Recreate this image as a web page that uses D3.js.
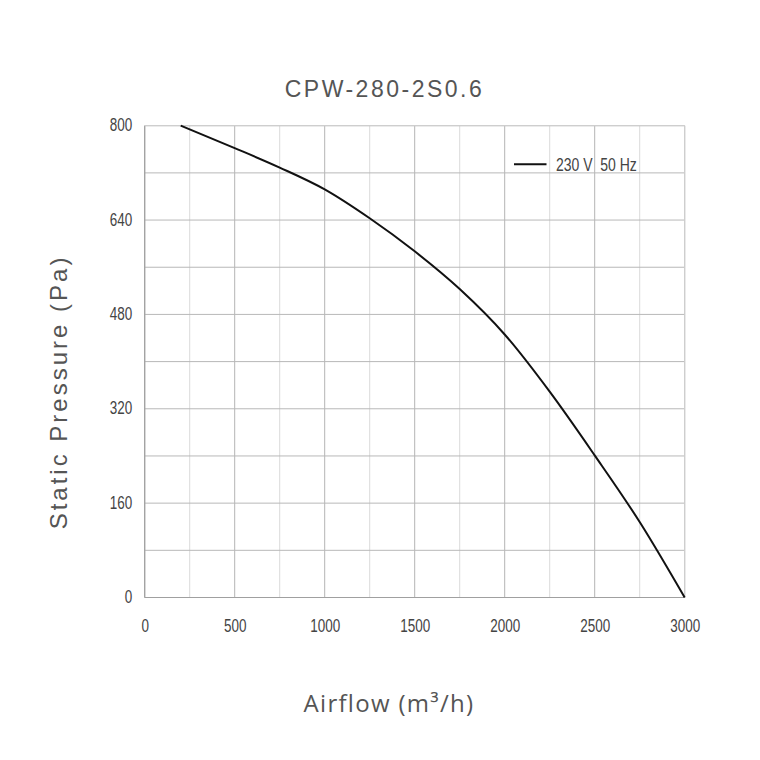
<!DOCTYPE html>
<html><head><meta charset="utf-8">
<script src="https://cdn.jsdelivr.net/npm/d3@7"></script>
<style>
body{margin:0;background:#fff;}
svg{display:block;}
</style></head>
<body>
<svg id="c" width="760" height="760"></svg>
<script>
const title = "CPW-280-2S0.6";
const seriesName = "230 V  50 Hz";
const airflow = [200, 500, 750, 1000, 1250, 1500, 1750, 2000, 2250, 2500, 2750, 3000];
const pressure = [800, 762, 729, 692, 643, 587, 523, 446, 349, 241, 128, 0];
const xTicks = [0, 500, 1000, 1500, 2000, 2500, 3000];
const yTicks = [0, 160, 320, 480, 640, 800];
const xGrid = d3.range(0, 3001, 250);
const yGrid = d3.range(0, 801, 80);

const svg = d3.select("#c");
const L = 144.7, R = 684.7, T = 125.7, B = 597.5;
const x = d3.scaleLinear().domain([0, 3000]).range([L, R]);
const y = d3.scaleLinear().domain([0, 800]).range([B, T]);
const SX = 0.71;
const tickFont = '"Liberation Sans",Arial,sans-serif';

svg.append("rect").attr("width",760).attr("height",760).attr("fill","#fff");

// grid
svg.append("g").selectAll("line").data(xGrid).join("line")
  .attr("x1", d=>x(d)).attr("x2", d=>x(d)).attr("y1", T).attr("y2", B)
  .attr("stroke", d=> d%500===0 ? "#b4b4b4" : "#dadada").attr("stroke-width",1);
svg.append("g").selectAll("line").data(yGrid).join("line")
  .attr("x1", L).attr("x2", R).attr("y1", d=>y(d)).attr("y2", d=>y(d))
  .attr("stroke", "#b8b8b8").attr("stroke-width",1);
// frame
svg.append("line").attr("x1",L).attr("x2",L).attr("y1",T).attr("y2",B).attr("stroke","#a0a0a0").attr("stroke-width",1.2);
svg.append("line").attr("x1",L).attr("x2",R).attr("y1",B).attr("y2",B).attr("stroke","#a0a0a0").attr("stroke-width",1.2);
svg.append("line").attr("x1",R).attr("x2",R).attr("y1",T).attr("y2",B).attr("stroke","#d0d0d0").attr("stroke-width",1);
svg.append("line").attr("x1",L).attr("x2",R).attr("y1",T).attr("y2",T).attr("stroke","#d0d0d0").attr("stroke-width",1);

// axes
const xa = svg.append("g").attr("transform",`translate(0,${B})`)
  .call(d3.axisBottom(x).tickValues(xTicks).tickSize(0).tickPadding(0).tickFormat(d3.format("d")));
xa.select(".domain").remove();
xa.selectAll("text").attr("fill","#444").attr("y",35).attr("dy",null)
  .attr("transform",`scale(${SX},1)`)
  .style("font-size","19px").style("font-family",tickFont);
const ya = svg.append("g").attr("transform",`translate(${L},0)`)
  .call(d3.axisLeft(y).tickValues(yTicks).tickSize(0).tickPadding(0).tickFormat(d3.format("d")));
ya.select(".domain").remove();
ya.selectAll("text").attr("fill","#444").attr("x",-12.4/SX).attr("dy",null).attr("y",5)
  .attr("transform",`scale(${SX},1)`)
  .style("font-size","19px").style("font-family",tickFont);

// curve
const line = d3.line().x((d,i)=>x(airflow[i])).y(d=>y(d)).curve(d3.curveMonotoneX);
svg.append("path").datum(pressure).attr("d", line)
  .attr("fill","none").attr("stroke","#111").attr("stroke-width",2);

// legend
svg.append("line").attr("x1",514).attr("x2",546.5).attr("y1",164.3).attr("y2",164.3).attr("stroke","#111").attr("stroke-width",2);
svg.append("text").attr("transform",`translate(556,170.7) scale(0.8,1)`).text(seriesName)
  .attr("fill","#444").style("font-size","17.5px").style("white-space","pre")
  .style("font-family",tickFont);

// title
svg.append("text").attr("x",384.5).attr("y",97.3).attr("text-anchor","middle").text(title)
  .attr("fill","#555").style("font-size","23px").style("letter-spacing","2.5px")
  .style("font-family",'"Liberation Sans",Arial,sans-serif');

// axis titles
svg.append("text").attr("transform","translate(67,392) rotate(-90)").attr("text-anchor","middle")
  .text("Static Pressure (Pa)").attr("fill","#555").style("font-size","24px").style("letter-spacing","3px")
  .style("font-family",'"Liberation Sans",Arial,sans-serif');
svg.append("text").attr("x",389).attr("y",712).attr("text-anchor","middle")
  .text("Airflow (m³/h)").attr("fill","#555").style("font-size","24px").style("letter-spacing","1.3px")
  .style("font-family",'"Open Sans","Liberation Sans",sans-serif');
</script>
</body></html>
